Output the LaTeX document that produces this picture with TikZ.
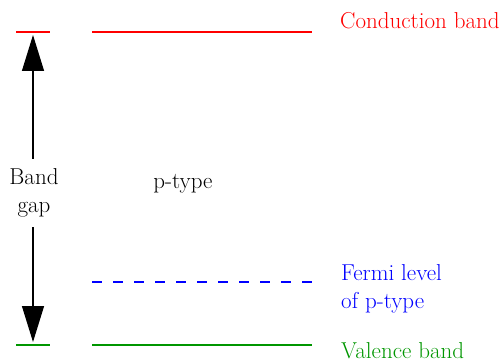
\documentclass[tikz,border=0pt]{standalone}
\usetikzlibrary{arrows.meta,positioning}
\definecolor{bandred}{RGB}{255,0,0}
\definecolor{fermiblue}{RGB}{0,0,255}
\definecolor{valgreen}{RGB}{0,150,0}

\begin{document}
\begin{tikzpicture}[x=1pt, y=-1pt, font=\fontsize{23}{28}\selectfont,
    level/.style={line width=1.5pt},
    bandlabel/.style={anchor=base west, inner sep=0pt, align=left}]
    \useasboundingbox (0,0) rectangle (502,363);
    % band edges
    \coordinate (cbL) at (16,32);  \coordinate (cbR) at (50,32);
    \coordinate (cbA) at (92,32);  \coordinate (cbB) at (312,32);
    \coordinate (vbL) at (16,345); \coordinate (vbR) at (50,345);
    \coordinate (vbA) at (92,345); \coordinate (vbB) at (312,345);
    \coordinate (efA) at (92,282); \coordinate (efB) at (312,282);
    \draw[level, bandred] (cbL) -- (cbR);
    \draw[level, bandred] (cbA) -- (cbB);
    \draw[level, valgreen] (vbL) -- (vbR);
    \draw[level, valgreen] (vbA) -- (vbB);
    \draw[level, fermiblue, dash pattern=on 10pt off 11pt] (efA) -- (efB);
    % labels
    \node[bandlabel, text=bandred] (cbtext) at (340,29) {Conduction band};
    \node[bandlabel, text=fermiblue] (eftext) at (341,308) {Fermi level\\of p-type};
    \node[bandlabel, text=valgreen] (vbtext) at (341,358) {Valence band};
    \node[anchor=base] (ptype) at (183,188) {p-type};
    % band gap arrow
    \coordinate (gaptop) at (33,35);
    \coordinate (gapbot) at (33,342);
    \node[align=center, inner sep=0pt, minimum height=68pt] (gap) at (34,193) {Band\\gap};
    \draw[-{Triangle[length=36pt,width=22pt]}, line width=1.2pt] (gap.north -| gaptop) -- (gaptop);
    \draw[-{Triangle[length=36pt,width=22pt]}, line width=1.2pt] (gap.south -| gapbot) -- (gapbot);
\end{tikzpicture}
\end{document}
